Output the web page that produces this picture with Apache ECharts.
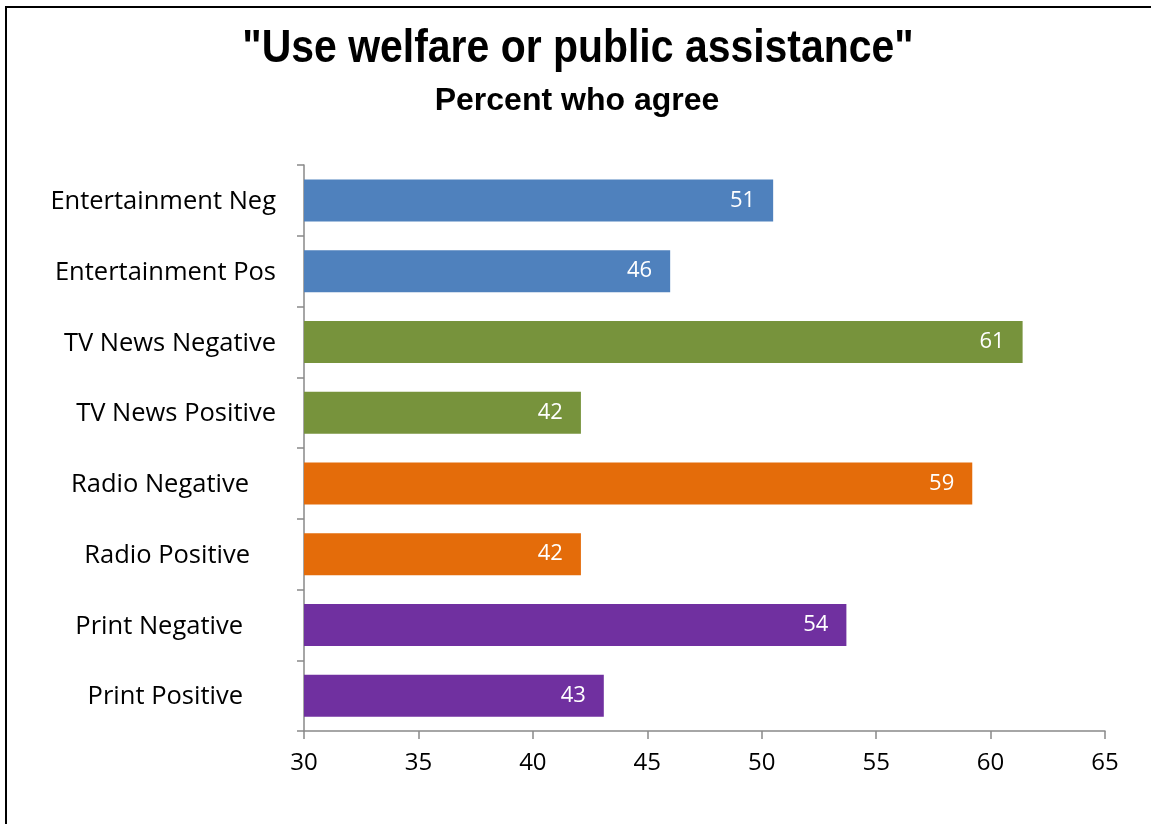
<!DOCTYPE html>
<html>
<head>
<meta charset="utf-8">
<script src="https://cdn.jsdelivr.net/npm/echarts@6/dist/echarts.min.js"></script>
<style>
html,body{margin:0;padding:0;background:#fff;}
#chart{width:1151px;height:824px;}
</style>
</head>
<body>
<div id="chart"></div>
<script>
const titleText = '"Use welfare or public assistance"';
const subtitleText = 'Percent who agree';
const categories = ["Entertainment Neg","Entertainment Pos","TV News Negative","TV News Positive","Radio Negative","Radio Positive","Print Negative","Print Positive"];
const values = [50.5, 46.0, 61.4, 42.1, 59.2, 42.1, 53.7, 43.1];
const groupColors = ["#4F81BD","#4F81BD","#77933C","#77933C","#E46C0A","#E46C0A","#7030A0","#7030A0"];
const xTicks = [30,35,40,45,50,55,60,65];
const labelPad = [0,0,0,0,27,26,33,33];

const chart = echarts.init(document.getElementById('chart'), null, {renderer:'canvas'});
const labelFont = '"Open Sans", sans-serif';
chart.setOption({
  animation:false,
  backgroundColor:'#fff',
  graphic:[
    {type:'rect', shape:{x:6, y:7, width:2000, height:2000}, style:{fill:'none', stroke:'#000', lineWidth:2}, silent:true},
    {type:'text', x:578, y:49, scaleX:0.89, silent:true,
     style:{text:titleText, fill:'#000', font:'bold 46px "Liberation Sans", Arial, sans-serif', textAlign:'center', textVerticalAlign:'middle'}},
    {type:'text', x:577, y:101, silent:true,
     style:{text:subtitleText, fill:'#000', font:'bold 32px "Liberation Sans", Arial, sans-serif', textAlign:'center', textVerticalAlign:'middle'}}
  ],
  grid:{left:304, right:46, top:165, bottom:93, containLabel:false},
  xAxis:{
    type:'value', min:xTicks[0], max:xTicks[xTicks.length-1], interval:5,
    axisLine:{show:true, lineStyle:{color:'#898989', width:1.5}},
    axisTick:{show:true, length:8, lineStyle:{color:'#898989', width:1.5}},
    splitLine:{show:false},
    axisLabel:{color:'#000', fontSize:24, fontFamily:labelFont, margin:20}
  },
  yAxis:{
    type:'category', data:categories, inverse:true,
    axisLine:{show:true, lineStyle:{color:'#898989', width:1.5}},
    axisTick:{show:true, length:7, lineStyle:{color:'#898989', width:1.5}},
    axisLabel:{color:'#000', fontSize:25.5, fontFamily:labelFont, margin:28,
      formatter:function(v, i){ return '{p' + i + '|' + v + '}'; },
      rich:(function(){ const r={}; labelPad.forEach((p,i)=>{ r['p'+i]={fontSize:25.5, fontFamily:labelFont, color:'#000', padding:[3,p,0,0]}; }); return r; })()
    }
  },
  series:[{
    type:'bar',
    data: values.map((v,i)=>({value:v, itemStyle:{color:groupColors[i]}})),
    barWidth:42,
    label:{show:true, position:'insideRight', distance:18, color:'#fff', fontSize:22, fontFamily:labelFont,
      formatter:function(p){ return Math.round(p.value); }}
  }]
});
</script>
</body>
</html>
